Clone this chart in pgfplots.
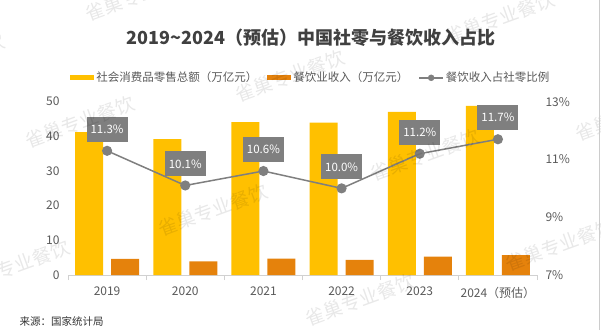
\documentclass[border=0pt]{standalone}
\usepackage{fontspec}
\setmainfont{Noto Sans CJK SC}
\usepackage{pgfplots}
\pgfplotsset{compat=1.18}
\definecolor{cyellow}{HTML}{FFC000}
\definecolor{corange}{HTML}{E5820C}
\definecolor{cgray}{HTML}{7F7F7F}
\definecolor{ctext}{HTML}{595959}
\definecolor{ctitle}{HTML}{404040}
\pgfplotsset{/pgf/number format/assume math mode=true}
\begin{document}
\begin{tikzpicture}[x=1pt,y=1pt]
\useasboundingbox (0,0) rectangle (601,330);
\clip (0,0) rectangle (601,330);
% title
\node[font=\fontsize{18}{20}\selectfont\bfseries, text=ctitle] at (311,292) {2019\textasciitilde2024（预估）中国社零与餐饮收入占比};
% source
\node[font=\fontsize{10.5}{12}\selectfont, text=black!80, anchor=west] at (16,9) {来源：国家统计局};
% bars
\begin{axis}[
  at={(68pt,55pt)}, anchor=south west,
  scale only axis, width=469pt, height=173.3pt,
  xmin=-0.5, xmax=5.5, ymin=0, ymax=50,
  ytick={0,10,...,50},
  xtick={0,...,5},
  xticklabels={2019,2020,2021,2022,2023,2024（预估）},
  ybar=8pt, bar width=28pt,
  axis x line*=bottom, axis y line*=left,
  y axis line style={draw=none},
  x axis line style={draw=black!18, line width=0.8pt},
  ytick style={draw=none},
  xtick style={draw=none},
  extra x ticks={-0.5,0.5,1.5,2.5,3.5,4.5,5.5},
  extra x tick labels={},
  extra x tick style={xtick style={draw=black!18, line width=0.8pt}, major tick length=5pt, tick align=outside},
  tick label style={font=\fontsize{12}{14}\selectfont, text=ctext},
  yticklabel style={xshift=-5pt},
  xticklabel style={yshift=-4pt},
  legend style={at={(0.518,1.138)}, anchor=center, draw=none, fill=none,
    font=\fontsize{11.5}{13}\selectfont, text=ctext,
    /tikz/every even column/.append style={column sep=8pt},
    inner sep=0pt},
  legend columns=3,
  legend cell align=left,
]
\addplot[fill=cyellow, draw=none,
  legend image code/.code={\fill[cyellow] (0pt,-2.5pt) rectangle (24pt,2.5pt);}]
  coordinates {(0,41.2) (1,39.2) (2,44.1) (3,44.0) (4,47.1) (5,48.8)};
\addplot[fill=corange, draw=none,
  legend image code/.code={\fill[corange] (0pt,-2.5pt) rectangle (24pt,2.5pt);}]
  coordinates {(0,4.67) (1,3.95) (2,4.69) (3,4.39) (4,5.29) (5,5.7)};
\addlegendimage{legend image code/.code={\draw[cgray, line width=1.5pt] (0pt,0pt) -- (24pt,0pt); \fill[cgray] (12pt,0pt) circle (3pt);}}
\legend{社会消费品零售总额（万亿元）,餐饮业收入（万亿元）,餐饮收入占社零比例}
\end{axis}
% line
\begin{axis}[
  at={(68pt,55pt)}, anchor=south west,
  scale only axis, width=469pt, height=173.3pt,
  xmin=-0.5, xmax=5.5, ymin=7, ymax=13,
  ytick={7,9,11,13},
  yticklabel={\pgfmathprintnumber{\tick}\%},
  axis y line*=right, axis x line=none,
  y axis line style={draw=none},
  ytick style={draw=none},
  tick label style={font=\fontsize{12}{14}\selectfont, text=ctext},
  yticklabel style={xshift=5pt},
]
\addplot[cgray, line width=1.5pt, mark=*, mark size=4.3pt,
  nodes near coords={\pgfmathprintnumber[fixed,fixed zerofill,precision=1]{\pgfplotspointmeta}\%},
  every node near coord/.append style={anchor=south, yshift=9pt, fill=cgray, text=white,
    font=\fontsize{11.5}{13}\selectfont, inner xsep=4pt, minimum height=25pt, outer sep=0pt}]
  coordinates {(0,11.3) (1,10.1) (2,10.6) (3,10.0) (4,11.2) (5,11.7)};
\end{axis}
% watermarks
\foreach \wx/\wy in {80/208, 213/120, 425/175, 15/64, 290/254, 500/312, 360/30, 560/85, 630/215, 140/335, -50/270}{
  \node[rotate=20, font=\fontsize{19}{20}\selectfont, text=black, opacity=0.09] at (\wx,\wy) {雀巢专业餐饮};
}
\draw[black!20, line width=0.8pt] (599,0) -- (599,330);
\end{tikzpicture}
\end{document}
